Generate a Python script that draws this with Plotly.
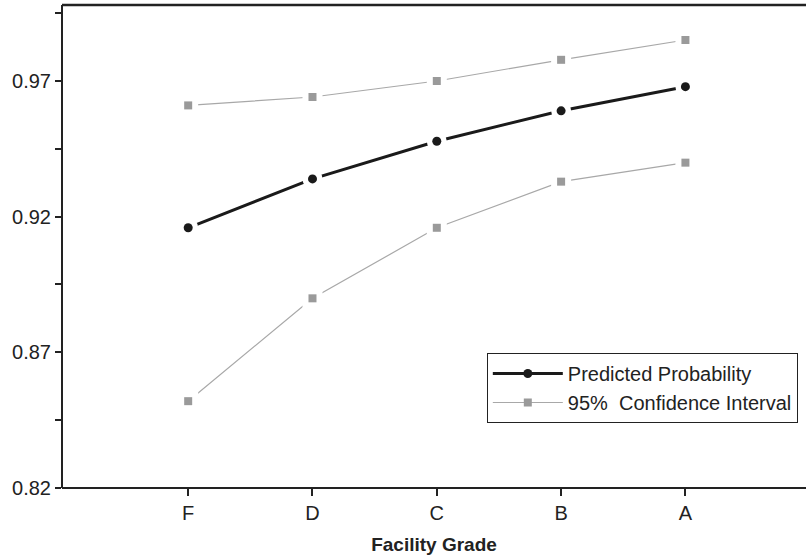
import plotly.graph_objects as go

grades = ["F", "D", "C", "B", "A"]
x_pos = [1, 2, 3, 4, 5]
predicted = [0.9159, 0.9339, 0.9478, 0.9590, 0.9679]
ci_upper = [0.9610, 0.9641, 0.9700, 0.9778, 0.9851]
ci_lower = [0.8520, 0.8899, 0.9159, 0.9329, 0.9399]
y_tickvals = [0.82, 0.845, 0.87, 0.895, 0.92, 0.945, 0.97, 0.995]
y_ticktext = ["0.82", "", "0.87", "", "0.92", "", "0.97", ""]

BLACK = "#1a1a1a"
GRAY_M = "#9a9a9a"
GRAY_L = "#a8a8a8"
FONT = "Liberation Sans, Arial, Helvetica, sans-serif"

fig = go.Figure()

# Lines with markers (legend entries)
fig.add_trace(go.Scatter(x=x_pos, y=predicted, mode="lines+markers", name="Predicted Probability",
                         line=dict(color=BLACK, width=3),
                         marker=dict(symbol="circle", size=9, color=BLACK)))
fig.add_trace(go.Scatter(x=x_pos, y=ci_upper, mode="lines+markers", name="95%  Confidence Interval",
                         legendgroup="ci", line=dict(color=GRAY_L, width=1.2),
                         marker=dict(symbol="square", size=8, color=GRAY_M)))
fig.add_trace(go.Scatter(x=x_pos, y=ci_lower, mode="lines+markers", name="95%  Confidence Interval",
                         legendgroup="ci", showlegend=False, line=dict(color=GRAY_L, width=1.2),
                         marker=dict(symbol="square", size=8, color=GRAY_M)))

# White masks to create gaps around markers
for ys, sym in [(predicted, "circle"), (ci_upper, "square"), (ci_lower, "square")]:
    fig.add_trace(go.Scatter(x=x_pos, y=ys, mode="markers", showlegend=False, hoverinfo="skip",
                             marker=dict(symbol=sym, size=20, color="white")))
# Redraw colored markers on top
fig.add_trace(go.Scatter(x=x_pos, y=predicted, mode="markers", showlegend=False,
                         marker=dict(symbol="circle", size=9, color=BLACK)))
for ys in [ci_upper, ci_lower]:
    fig.add_trace(go.Scatter(x=x_pos, y=ys, mode="markers", showlegend=False,
                             marker=dict(symbol="square", size=8, color=GRAY_M)))

fig.update_layout(
    template="none",
    width=806, height=559,
    margin=dict(l=62, r=0, t=5, b=71, pad=0),
    paper_bgcolor="white", plot_bgcolor="white",
    font=dict(family=FONT, size=20, color="#222"),
    showlegend=True,
    legend=dict(x=0.989, xanchor="right", y=0.207, yanchor="middle",
                bordercolor="#222", borderwidth=1, bgcolor="white",
                font=dict(size=20, family=FONT, color="#222"),
                itemwidth=70, tracegroupgap=0),
    xaxis=dict(range=[-0.015, 5.97], tickvals=x_pos, ticktext=grades,
               showline=False,
               ticks="outside", ticklen=7, tickwidth=1.5, tickcolor="#222",
               showgrid=False, zeroline=False,
               tickfont=dict(size=20),
               title=dict(text="<b>Facility Grade</b>", font=dict(size=19), standoff=14)),
    yaxis=dict(range=[0.82, 0.998], tickvals=y_tickvals, ticktext=y_ticktext,
               showline=False,
               ticks="outside", ticklen=6, tickwidth=1.5, tickcolor="#222",
               showgrid=False, zeroline=False, tickfont=dict(size=20)),
    shapes=[
        dict(type="line", xref="paper", yref="paper", x0=0, x1=1, y0=1, y1=1,
             line=dict(color="#222", width=2.5)),
        dict(type="line", xref="paper", yref="paper", x0=0, x1=1, y0=0, y1=0,
             line=dict(color="#222", width=2)),
        dict(type="line", xref="paper", yref="paper", x0=0, x1=0, y0=0, y1=1,
             line=dict(color="#222", width=2)),
    ],
)

fig.write_html("out.html", config={"displayModeBar": False},
               post_script="document.body.style.margin='0';document.body.style.overflow='hidden';")
